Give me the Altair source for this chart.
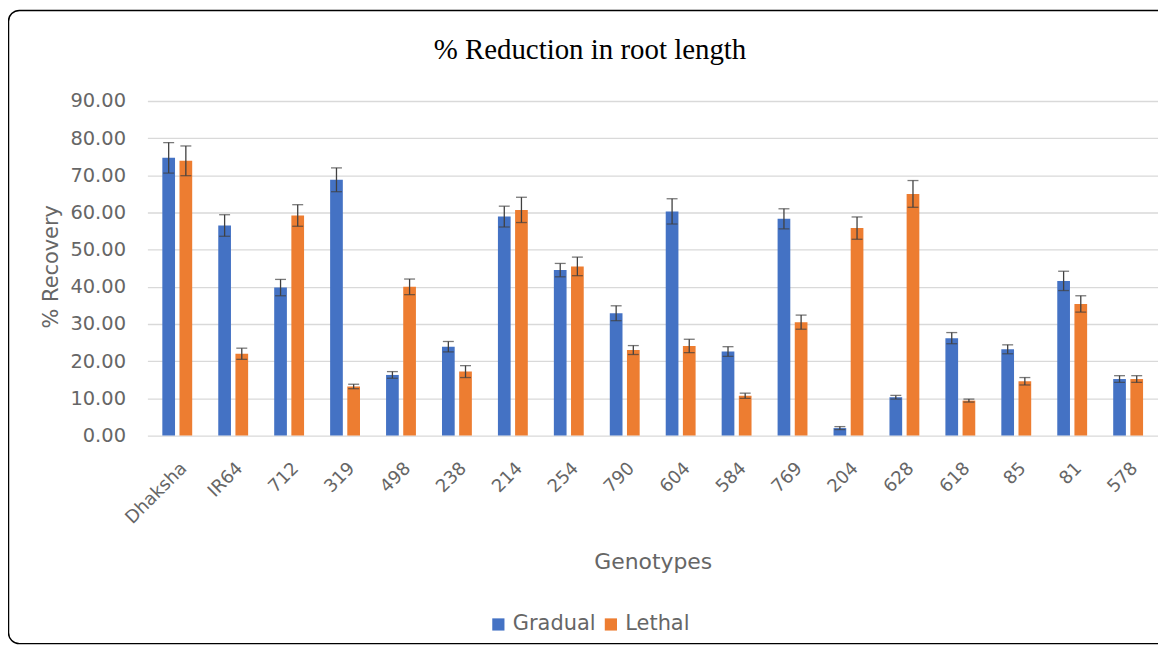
import altair as alt
import pandas as pd

genotypes = ["Dhaksha", "IR64", "712", "319", "498", "238", "214", "254", "790",
             "604", "584", "769", "204", "628", "618", "85", "81", "578"]
series = ["Gradual", "Lethal"]
gradual = [74.7, 56.5, 39.8, 68.8, 16.3, 23.9, 58.9, 44.5, 32.9, 60.3, 22.6, 58.3, 2.0, 10.3, 26.2, 23.2, 41.6, 15.2]
gradual_err = [4.1, 2.9, 2.2, 3.2, 0.9, 1.4, 2.8, 1.8, 2.0, 3.4, 1.3, 2.7, 0.4, 0.5, 1.5, 1.2, 2.6, 0.9]
lethal = [73.9, 22.0, 59.2, 13.2, 40.0, 17.2, 60.7, 45.5, 23.0, 24.1, 10.7, 30.5, 55.8, 65.0, 9.4, 14.6, 35.4, 15.2]
lethal_err = [4.0, 1.5, 2.9, 0.6, 2.1, 1.6, 3.4, 2.5, 1.2, 1.8, 0.7, 1.9, 3.0, 3.6, 0.4, 1.0, 2.2, 0.9]
y_ticks = [0, 10, 20, 30, 40, 50, 60, 70, 80, 90]
colors = ["#4472C4", "#ED7D31"]

rows = []
for s, vals, errs in [("Gradual", gradual, gradual_err), ("Lethal", lethal, lethal_err)]:
    for g, v, e in zip(genotypes, vals, errs):
        rows.append({"Genotype": g, "Series": s, "value": v, "lo": v - e, "hi": v + e})
df = pd.DataFrame(rows)

W, H = 1015, 336
gray = "#666666"

x_enc = alt.X(
    "Genotype:N", sort=genotypes,
    scale=alt.Scale(paddingInner=0.466, paddingOuter=0.267),
    axis=alt.Axis(
        title="Genotypes", labelAngle=-45, labelAlign="right", labelBaseline="middle",
        labelFont="DejaVu Sans", labelFontSize=18, labelColor=gray, labelPadding=30,
        labelOffset=7, ticks=False, domain=False, grid=False,
        titleFont="DejaVu Sans", titleFontSize=22, titleFontWeight="normal", titleColor=gray,
        titleY=134, titleBaseline="alphabetic",
    ),
)
xo_enc = alt.XOffset("Series:N", sort=series, scale=alt.Scale(paddingInner=0.26))
color_enc = alt.Color(
    "Series:N", sort=series, scale=alt.Scale(domain=series, range=colors),
    legend=alt.Legend(
        title=None, orient="none", legendX=342, legendY=515, direction="horizontal",
        symbolType="square", symbolSize=150, symbolStrokeWidth=0,
        labelFont="DejaVu Sans", labelFontSize=21, labelColor=gray, columnPadding=4,
        labelOffset=4,
    ),
)
y_scale = alt.Scale(domain=[0, 90], nice=False)
y_axis = alt.Axis(
    title="% Recovery", values=y_ticks, format=".2f", ticks=False, domain=False,
    labelFont="DejaVu Sans", labelFontSize=19.5, labelColor=gray, labelPadding=22,
    gridColor="#d9d9d9", gridWidth=1.3,
    titleFont="DejaVu Sans", titleFontSize=21, titleFontWeight="normal", titleColor=gray,
    titleX=-96, titleY=166, titleAngle=270, titleAlign="center", titleBaseline="middle",
)

base = alt.Chart(df)
bars = base.mark_bar().encode(
    x=x_enc, xOffset=xo_enc,
    y=alt.Y("value:Q", scale=y_scale, axis=y_axis),
    color=color_enc,
)
err_rule = base.mark_rule(color="#404040", strokeWidth=1.3).encode(
    x=x_enc, xOffset=xo_enc, y=alt.Y("lo:Q", scale=y_scale, axis=y_axis), y2="hi:Q",
)
cap_hi = base.mark_tick(color="#404040", thickness=1.3, size=11, orient="horizontal").encode(
    x=x_enc, xOffset=xo_enc, y=alt.Y("hi:Q", scale=y_scale, axis=y_axis),
)
cap_lo = base.mark_tick(color="#404040", thickness=1.3, size=11, orient="horizontal").encode(
    x=x_enc, xOffset=xo_enc, y=alt.Y("lo:Q", scale=y_scale, axis=y_axis),
)
frame = alt.Chart(pd.DataFrame({"f": [0]})).mark_rect(
    fill="transparent", stroke="black", strokeWidth=1.5, cornerRadius=11, clip=False,
).encode(
    x=alt.value(-139.5), x2=alt.value(W + 40), y=alt.value(-91), y2=alt.value(H + 209),
)

chart = alt.layer(frame, bars, err_rule, cap_hi, cap_lo).properties(
    width=W, height=H,
    title=alt.TitleParams(
        "% Reduction in root length", font="Liberation Serif", fontSize=29,
        fontWeight="normal", color="black", anchor="middle", frame="group",
        dx=-63, offset=-56,
    ),
    autosize=alt.AutoSizeParams(type="none"),
    padding={"left": 140, "top": 92, "right": 0, "bottom": 212},
    background="white",
).configure_view(stroke=None)

chart.save("out.html", embed_options={"renderer": "svg", "actions": False})
